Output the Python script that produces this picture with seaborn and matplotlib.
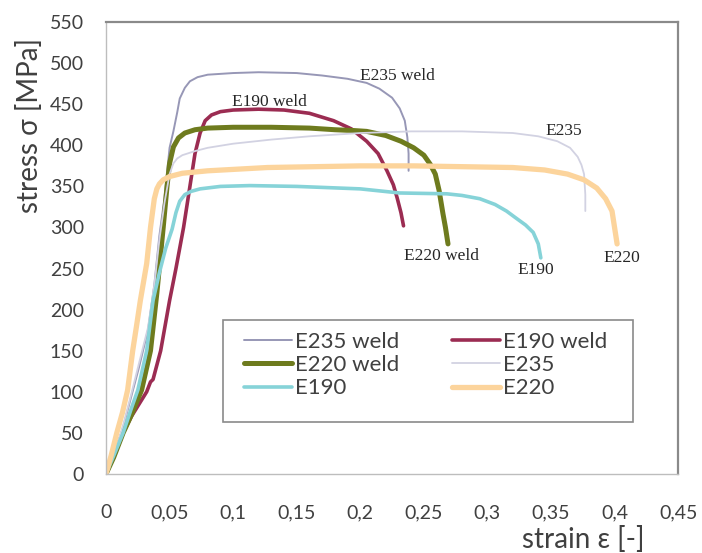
import numpy as np
import pandas as pd
import matplotlib
matplotlib.use("Agg")
import matplotlib.pyplot as plt
import seaborn as sns
from matplotlib.ticker import MultipleLocator, FuncFormatter
from matplotlib.patches import Rectangle

# ---- data ----
series_names = ["E235 weld", "E190 weld", "E220 weld", "E235", "E190", "E220"]

e235w_strain = [0, 0.008, 0.014, 0.02, 0.026, 0.033, 0.038, 0.042, 0.046, 0.050, 0.053, 0.056, 0.058,
                0.062, 0.066, 0.072, 0.08, 0.10, 0.12, 0.15, 0.17, 0.19, 0.205, 0.215, 0.225, 0.231,
                0.235, 0.237, 0.238, 0.238]
e235w_stress = [0, 30, 60, 95, 130, 175, 230, 290, 336, 397, 417, 440, 457,
                470, 478, 483, 486, 488, 489, 488, 485, 481, 476, 469, 458, 445,
                430, 410, 390, 369]

e190w_strain = [0, 0.006, 0.0135, 0.02, 0.026, 0.032, 0.035, 0.037, 0.043, 0.050, 0.055, 0.061, 0.066,
                0.070, 0.074, 0.078, 0.083, 0.09, 0.10, 0.12, 0.14, 0.16, 0.179, 0.193, 0.205, 0.214,
                0.221, 0.226, 0.229, 0.232, 0.234]
e190w_stress = [0, 20, 50, 70, 85, 100, 112, 115, 150, 211, 250, 300, 350,
                390, 415, 430, 437, 441, 443, 444, 443, 439, 430, 420, 405, 390,
                369, 352, 336, 318, 302]

e220w_strain = [0, 0.006, 0.0135, 0.02, 0.028, 0.035, 0.040, 0.045, 0.048, 0.050, 0.053, 0.057, 0.062,
                0.07, 0.08, 0.10, 0.13, 0.16, 0.18, 0.195, 0.205, 0.22, 0.232, 0.242, 0.25, 0.255,
                0.259, 0.262, 0.265, 0.267, 0.269]
e220w_stress = [0, 20, 50, 72, 102, 150, 220, 300, 350, 378, 398, 409, 415,
                419, 421, 422, 422, 421, 419, 418, 417, 412, 405, 397, 388, 377,
                365, 345, 317, 300, 280]

e235_strain = [0, 0.008, 0.014, 0.02, 0.026, 0.033, 0.038, 0.042, 0.046, 0.050, 0.053, 0.056, 0.06,
               0.07, 0.08, 0.1, 0.13, 0.16, 0.2, 0.24, 0.28, 0.32, 0.34, 0.355, 0.365, 0.371,
               0.374, 0.376, 0.377, 0.377]
e235_stress = [0, 32, 62, 98, 135, 178, 230, 285, 330, 365, 378, 384, 388,
               393, 397, 402, 407, 411, 415, 417, 417, 415, 411, 405, 397, 386,
               376, 365, 340, 320]

e190_strain = [0, 0.006, 0.0135, 0.02, 0.025, 0.032, 0.037, 0.042, 0.047, 0.052, 0.055, 0.058, 0.062,
               0.067, 0.074, 0.09, 0.113, 0.15, 0.2, 0.231, 0.268, 0.28, 0.294, 0.306, 0.315, 0.322,
               0.33, 0.336, 0.34, 0.342]
e190_stress = [0, 22, 50, 80, 102, 150, 211, 245, 275, 298, 318, 332, 340,
               344, 347, 350, 351, 350, 347, 342, 341, 339, 335, 328, 320, 312,
               303, 294, 280, 263]

e220_strain = [0, 0.004, 0.0085, 0.013, 0.017, 0.021, 0.024, 0.027, 0.032, 0.035, 0.038, 0.040, 0.042,
               0.045, 0.05, 0.06, 0.08, 0.127, 0.2, 0.242, 0.32, 0.345, 0.363, 0.376, 0.386, 0.393,
               0.398, 0.4, 0.402]
e220_stress = [0, 22, 50, 75, 102, 150, 180, 211, 256, 300, 335, 347, 353,
               358, 362, 366, 369, 373, 375, 375, 373, 370, 365, 358, 348, 335,
               320, 300, 280]

x_ticks = [0, 0.05, 0.1, 0.15, 0.2, 0.25, 0.3, 0.35, 0.4, 0.45]
y_ticks = [0, 50, 100, 150, 200, 250, 300, 350, 400, 450, 500, 550]

# curve end labels: (text, strain, stress)
label_text = ["E235 weld", "E190 weld", "E235", "E220 weld", "E190", "E220"]
label_x = [0.200, 0.099, 0.346, 0.234, 0.324, 0.391]
label_y = [484, 453, 417, 265, 248, 263]

# ---- build frame ----
strains = [e235w_strain, e190w_strain, e220w_strain, e235_strain, e190_strain, e220_strain]
stresses = [e235w_stress, e190w_stress, e220w_stress, e235_stress, e190_stress, e220_stress]
frames = []
for n, sx, sy in zip(series_names, strains, stresses):
    frames.append(pd.DataFrame({"series": n, "strain": sx, "stress": sy}))
df = pd.concat(frames, ignore_index=True)

colors = {"E235 weld": "#9797b6", "E190 weld": "#9b2c52", "E220 weld": "#6e7b1e",
          "E235": "#d2d2e2", "E190": "#86d3d8", "E220": "#fcd49c"}
widths = {"E235 weld": 1.4, "E190 weld": 2.6, "E220 weld": 3.6,
          "E235": 1.3, "E190": 2.6, "E220": 3.8}

sns.set_theme(style="white")
plt.rcParams["font.family"] = ["Lato", "DejaVu Sans"]

fig = plt.figure(figsize=(7.02, 5.53), dpi=100)
ax = fig.add_axes([0.151, 0.143, 0.815, 0.817])

for n in series_names:
    sub = df[df["series"] == n]
    sns.lineplot(data=sub, x="strain", y="stress", sort=False, estimator=None,
                 color=colors[n], linewidth=widths[n], label=n, ax=ax,
                 solid_capstyle="round", solid_joinstyle="round")

ax.set_xlim(0, 0.45)
ax.set_ylim(0, 550)
ax.set_xticks(x_ticks)
ax.set_yticks(y_ticks)
ax.xaxis.set_minor_locator(MultipleLocator(0.01))
ax.yaxis.set_minor_locator(MultipleLocator(10))
ax.xaxis.set_major_formatter(FuncFormatter(lambda v, p: ("%g" % round(v, 3)).replace(".", ",")))
ax.tick_params(axis="both", which="major", direction="inout", length=8, width=1,
               color="#bdbdbd", labelsize=14, labelcolor="#404040")
ax.tick_params(axis="both", which="minor", direction="in", length=4, width=0.8, color="#c8c8c8")
ax.tick_params(axis="x", which="major", pad=18)
ax.tick_params(axis="y", which="major", pad=12)

for s in ["left", "bottom"]:
    ax.spines[s].set_color("#bdbdbd")
    ax.spines[s].set_linewidth(1.0)
for s in ["top", "right"]:
    ax.spines[s].set_color("#8a8a8a")
    ax.spines[s].set_linewidth(1.6)

ax.set_xlabel("")
ax.set_ylabel("")
ax.text(-0.133, 0.772, "stress σ [MPa]", transform=ax.transAxes, rotation=90,
        ha="center", va="center", fontsize=20, color="#404040")
ax.text(0.834, -0.146, "strain ε [-]", transform=ax.transAxes,
        ha="center", va="center", fontsize=20, color="#404040")

for t, x, y in zip(label_text, label_x, label_y):
    ax.text(x, y, t, ha="left", va="center", fontsize=12.5, color="#262626",
            family=["Liberation Serif", "DejaVu Serif"])

# legend box
ax.add_patch(Rectangle((0.205, 0.115), 0.716, 0.226, transform=ax.transAxes,
                       facecolor="white", edgecolor="#8a8a8a", linewidth=1.2, zorder=4))

handles, labels = ax.get_legend_handles_labels()
order = [0, 2, 4, 1, 3, 5]
leg = ax.legend([handles[i] for i in order], [labels[i] for i in order], ncol=2,
                loc="center", bbox_to_anchor=(0.559, 0.241), frameon=False,
                fontsize=16, handlelength=2.16, handletextpad=0.14,
                labelspacing=0.15, columnspacing=2.35, borderpad=0, borderaxespad=0)
leg.set_zorder(5)
for txt in leg.get_texts():
    txt.set_color("#404040")

fig.savefig("out.png", dpi=100)
